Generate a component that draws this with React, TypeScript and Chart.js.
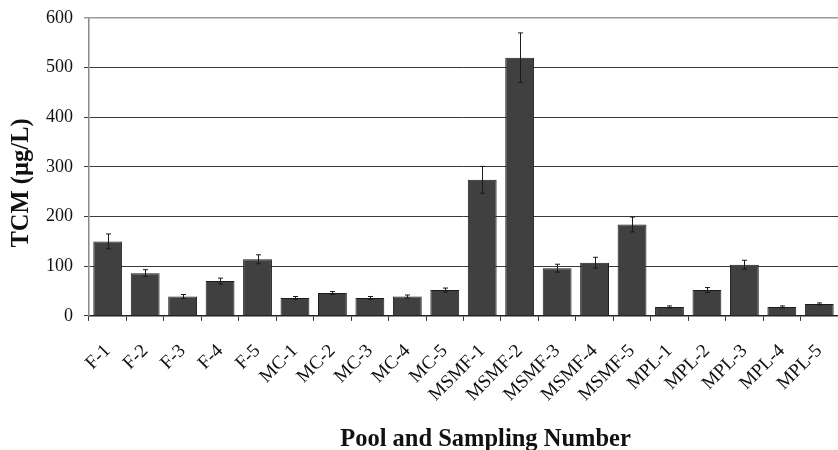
import React, { useEffect, useRef } from "react";
import { Chart, registerables } from "chart.js";

Chart.register(...registerables);

const categories = [
  "F-1", "F-2", "F-3", "F-4", "F-5",
  "MC-1", "MC-2", "MC-3", "MC-4", "MC-5",
  "MSMF-1", "MSMF-2", "MSMF-3", "MSMF-4", "MSMF-5",
  "MPL-1", "MPL-2", "MPL-3", "MPL-4", "MPL-5",
];
const tcmValues = [150, 86, 39, 70, 114, 36, 46, 36, 39, 52, 274, 520, 96, 107, 184, 18, 52, 103, 18, 24];
const tcmErrors = [15, 7, 4, 6, 9, 3, 3, 3, 3, 4, 27, 50, 8, 11, 15, 2, 5, 9, 2, 2];
const yTickValues = [0, 100, 200, 300, 400, 500, 600];
const xTitle = "Pool and Sampling Number";
const yTitle = "TCM (\u00b5g/L)";

const errorBarPlugin = {
  id: "errorBars",
  afterDatasetsDraw(chart: any) {
    const { ctx } = chart;
    const yScale = chart.scales.y;
    const meta = chart.getDatasetMeta(0);
    ctx.save();
    ctx.strokeStyle = "#1a1a1a";
    ctx.lineWidth = 1;
    meta.data.forEach((bar: any, i: number) => {
      const v = tcmValues[i];
      const e = tcmErrors[i];
      const x = Math.round(bar.x) + 0.5;
      const yT = yScale.getPixelForValue(v + e);
      const yB = yScale.getPixelForValue(v - e);
      ctx.beginPath();
      ctx.moveTo(x, yT);
      ctx.lineTo(x, yB);
      ctx.moveTo(x - 2.5, yT);
      ctx.lineTo(x + 2.5, yT);
      ctx.moveTo(x - 2.5, yB);
      ctx.lineTo(x + 2.5, yB);
      ctx.stroke();
    });
    ctx.restore();
  },
};

const axisTitlePlugin = {
  id: "axisTitles",
  afterDraw(chart: any) {
    const { ctx, chartArea } = chart;
    ctx.save();
    ctx.fillStyle = "#111";
    ctx.font = 'bold 24.5px "Liberation Serif", serif';
    ctx.textAlign = "center";
    ctx.textBaseline = "alphabetic";
    ctx.fillText(xTitle, (chartArea.left + chartArea.right) / 2 + 22, chart.height - 4);
    ctx.translate(27.5, (chartArea.top + chartArea.bottom) / 2 + 16);
    ctx.rotate(-Math.PI / 2);
    ctx.fillText(yTitle, 0, 0);
    ctx.restore();
  },
};

export default function App() {
  const canvasRef = useRef<HTMLCanvasElement | null>(null);

  useEffect(() => {
    document.body.style.margin = "0";
    document.body.style.overflow = "hidden";
    if (!canvasRef.current) return;
    Chart.defaults.font.family = '"Liberation Serif", "Times New Roman", serif';
    Chart.defaults.color = "#111";
    const chart = new Chart(canvasRef.current, {
      type: "bar",
      data: {
        labels: categories,
        datasets: [
          {
            label: "TCM",
            data: tcmValues,
            backgroundColor: "#404040",
            borderColor: "#1c1c1c",
            borderWidth: 1,
            barPercentage: 0.77,
            categoryPercentage: 1,
          },
        ],
      },
      options: {
        animation: false,
        responsive: true,
        maintainAspectRatio: false,
        layout: { padding: { left: 35, right: -7, top: 18, bottom: 25 } },
        plugins: {
          legend: { display: false },
          tooltip: { enabled: false },
        },
        scales: {
          x: {
            afterFit: (scale: any) => {
              scale.paddingRight = -7;
              scale.paddingLeft = 0;
            },
            grid: {
              display: true,
              drawOnChartArea: false,
              drawTicks: true,
              tickLength: 5,
              color: "#333",
              offset: true,
            },
            border: { display: true, color: "#222", width: 1.5 },
            ticks: {
              minRotation: 45,
              maxRotation: 45,
              autoSkip: false,
              padding: 19,
              font: { size: 19 },
              color: "#111",
            },
          },
          y: {
            min: 0,
            max: 600,
            afterFit: (scale: any) => {
              scale.paddingTop = 0;
              scale.paddingBottom = 0;
            },
            afterBuildTicks: (scale: any) => {
              scale.ticks = yTickValues.map((v) => ({ value: v }));
            },
            grid: {
              color: (c: any) => (c.tick && c.tick.value === 600 ? "#9a9a9a" : "#3a3a3a"),
              lineWidth: (c: any) => (c.tick && c.tick.value === 600 ? 1.5 : 1),
              tickLength: 5,
            },
            border: { display: true, color: "#8a8a8a", width: 1.5 },
            ticks: {
              padding: 11,
              font: { size: 18 },
              color: "#111",
            },
          },
        },
      },
      plugins: [errorBarPlugin, axisTitlePlugin],
    });
    return () => chart.destroy();
  }, []);

  return (
    <div style={{ width: 838, height: 450, position: "relative", overflow: "hidden" }}>
      <canvas ref={canvasRef} />
    </div>
  );
}
